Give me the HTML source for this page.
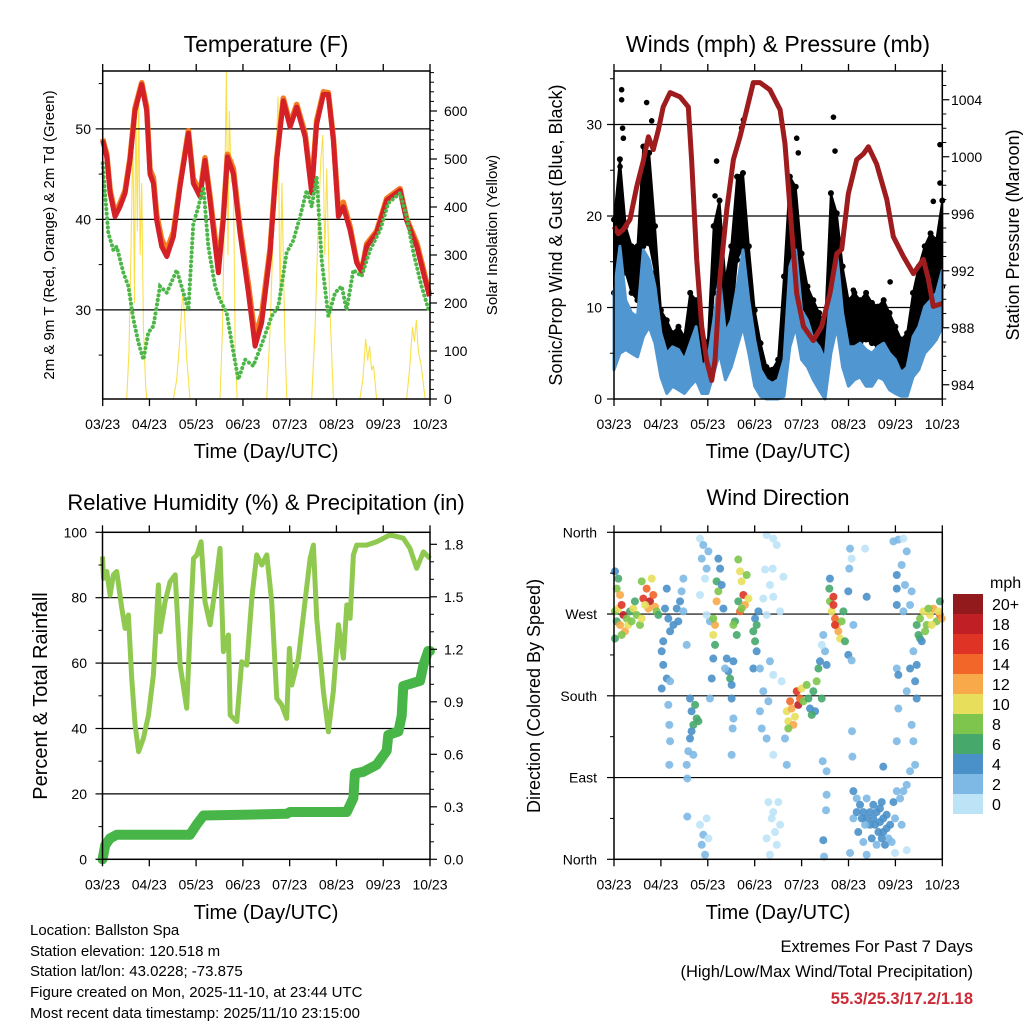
<!DOCTYPE html>
<html><head><meta charset="utf-8">
<style>
html,body{margin:0;padding:0;background:#fff;}
svg{display:block;font-family:"Liberation Sans",Arial,sans-serif;}
</style></head>
<body>
<svg id="chart" width="1024" height="1024" viewBox="0 0 1024 1024" xmlns="http://www.w3.org/2000/svg">
<rect width="1024" height="1024" fill="#fff"/>
<text x="266" y="52" font-size="23" text-anchor="middle">Temperature (F)</text>
<text x="778" y="52" font-size="23" text-anchor="middle">Winds (mph) &amp; Pressure (mb)</text>
<text x="266" y="510" font-size="22" text-anchor="middle">Relative Humidity (%) &amp; Precipitation (in)</text>
<text x="778" y="505" font-size="22" text-anchor="middle">Wind Direction</text>
<text x="266" y="458" font-size="20" text-anchor="middle">Time (Day/UTC)</text>
<text x="778" y="458" font-size="20" text-anchor="middle">Time (Day/UTC)</text>
<text x="266" y="919" font-size="20" text-anchor="middle">Time (Day/UTC)</text>
<text x="778" y="919" font-size="20" text-anchor="middle">Time (Day/UTC)</text>
<text transform="translate(54,235) rotate(-90)" font-size="15" text-anchor="middle">2m &amp; 9m T (Red, Orange) &amp; 2m Td (Green)</text>
<text transform="translate(497,235) rotate(-90)" font-size="15" text-anchor="middle">Solar Insolation (Yellow)</text>
<text transform="translate(562,235) rotate(-90)" font-size="18" text-anchor="middle">Sonic/Prop Wind &amp; Gust (Blue, Black)</text>
<text transform="translate(1019,235) rotate(-90)" font-size="18" text-anchor="middle">Station Pressure (Maroon)</text>
<text transform="translate(47,696) rotate(-90)" font-size="20" text-anchor="middle">Percent &amp; Total Rainfall</text>
<text transform="translate(540,696) rotate(-90)" font-size="18" text-anchor="middle">Direction (Colored By Speed)</text>
<g font-size="15">
<text x="30" y="935">Location: Ballston Spa</text>
<text x="30" y="956">Station elevation: 120.518 m</text>
<text x="30" y="976">Station lat/lon: 43.0228; -73.875</text>
<text x="30" y="997">Figure created on Mon, 2025-11-10, at 23:44 UTC</text>
<text x="30" y="1018">Most recent data timestamp: 2025/11/10 23:15:00</text>
</g>
<g font-size="16.5" text-anchor="end">
<text x="973" y="952">Extremes For Past 7 Days</text>
<text x="973" y="977">(High/Low/Max Wind/Total Precipitation)</text>
<text x="973" y="1004" fill="#cc2a36" font-weight="bold">55.3/25.3/17.2/1.18</text>
</g>
<text x="990" y="588" font-size="16">mph</text>
</svg>
<script>
// ---------- DATA ----------
const xTickHours = [0,24,48,72,96,120,144,168];
const xTickLabels = ['03/23','04/23','05/23','06/23','07/23','08/23','09/23','10/23'];
const tempTicks = [30,40,50];
const solarTicks = [0,100,200,300,400,500,600];
const windTicks = [0,10,20,30];
const presTicks = [984,988,992,996,1000,1004];
const rhTicks = [0,20,40,60,80,100];
const rainTicks = [0.0,0.3,0.6,0.9,1.2,1.5,1.8];
const rainTickLabels = ['0.0','0.3','0.6','0.9','1.2','1.5','1.8'];
const dirTicks = [0,90,180,270,360];
const dirTickLabels = ['North','East','South','West','North'];
const speedBins = ['0','2','4','6','8','10','12','14','16','18','20+'];
const speedColors = ['#bde3f7','#7db9e4','#4a90c9','#46a86b','#7dc54c','#e7df5b','#f8aa4a','#f26629','#df3326','#c01f26','#921a1d'];

const tempT = [0,2.1,3.8,6.3,8.9,11.5,14,16.6,20,22.6,24.3,26,27.7,30.3,32.9,36.3,39.7,44,46.5,50,52.5,55.1,59.4,61.9,64,67.1,70.5,74.8,78.2,81.6,85.9,89.3,92.7,96.2,99.6,103.9,107.3,109.8,113.3,115.8,118.4,121,123.5,127,130.4,132.9,135.5,140.6,145.8,152.6,156,161.2,164.6,167.7];
const temp2m = [48.7,46.9,42.9,40.3,41.4,42.9,46.5,52.0,54.9,52.0,45.0,44.0,39.9,37.0,35.9,38.1,43.6,49.5,44.0,42.5,46.5,42.1,34.1,39.9,46.9,45.0,38.5,31.9,26.0,28.6,36.3,46.5,53.1,50.2,52.4,49.1,42.9,50.5,53.8,53.8,48.7,40.3,41.4,38.8,35.2,34.2,37.0,38.5,42.1,43.2,39.9,37.0,34.1,31.5];
const temp9m = [48.9,47.2,43.3,40.6,41.8,43.2,46.8,52.3,55.1,52.4,45.5,44.6,40.5,37.8,36.6,38.6,43.9,49.8,44.5,43.0,46.8,42.6,34.9,40.3,47.2,45.6,39.1,32.8,27.0,29.5,36.8,46.8,53.4,50.6,52.7,49.5,43.5,50.9,54.1,54.0,49.0,40.9,41.9,39.2,35.4,34.3,37.3,38.7,42.3,43.4,40.1,37.4,34.5,31.7];
const tdT = [0,1.2,2.9,5.5,7.2,10.6,13.2,15.7,18.3,20.9,23.4,26,29.4,32.9,38,41.4,44,46.5,49.1,51.7,54.2,57.7,60.2,63.6,67.1,69.6,73.1,77.3,82.5,86.7,90.2,94.4,97.9,101.3,104.7,107.3,109.8,112.4,115.8,119.3,122.7,125.2,128.7,132.9,137.2,142.4,146.6,152.6,156,159.5,163.7,167.7];
const tdVal = [46.2,42.9,38.5,36.6,37.0,34.1,32.6,29.0,26.4,24.5,27.5,28.2,32.6,31.9,34.4,31.9,30.0,39.5,41.4,43.6,37.0,32.6,31.1,29.7,25.3,22.3,24.5,23.8,26.7,29.3,30.4,36.3,37.7,40.3,43.2,41.4,44.7,35.5,29.3,31.9,32.6,30.0,34.4,33.7,36.6,38.8,41.8,42.9,40.3,36.3,32.6,29.7];
const solarT = [0,12.3,13.5,14.5,15.5,16.3,17,17.8,18.5,19.2,20,20.9,22,22.6,36.3,38,39.5,41,42,43,44.8,60.2,61.5,62.5,63.5,64.3,65,66,67,68,69,84.2,86,87.5,89,90,91,92,93.5,94.5,107.3,109,110.5,112,113,114,115,116.5,118.4,132,133.5,135,136,137,138,139,140.6,156,157.5,159,160,161,162,163.5,165.5,168];
const solarVal = [0,0,100,300,550,200,620,350,640,300,450,150,30,0,0,40,120,220,180,90,0,0,150,400,690,300,600,450,500,100,0,0,150,350,500,630,200,450,120,0,0,150,350,500,550,300,480,200,0,0,40,125,80,110,60,70,0,0,60,150,120,165,100,70,0,0];

const windT = [0,3,6,9,12,15,18,21,24,27,30,33,36,39,42,45,48,51,54,57,60,63,66,69,72,75,78,81,84,87,90,93,96,99,102,105,108,111,114,117,120,123,126,129,132,135,138,141,144,147,150,153,156,159,162,165,168];
const windHi = [11.6,16.7,10.8,9.4,9.0,16.3,15.2,12.3,7.2,5.0,5.7,5.4,4.3,6.1,7.9,3.5,4.3,8.6,13.4,7.2,8.6,12.3,16.3,10.8,6.5,3.2,2.1,1.7,2.1,4.3,14.5,16.3,9.7,8.6,6.5,5.7,4.3,11.6,15.9,9.4,5.7,5.7,6.1,5.4,5.0,5.7,6.1,5.0,4.3,2.8,3.5,6.8,7.9,10.1,10.8,11.6,14.1];
const windLo = [3.2,5.0,5.4,5.0,4.6,6.8,7.9,6.1,2.4,0.6,1.4,1.0,0.6,1.4,2.1,0.6,0.6,2.8,5.0,2.1,3.5,5.7,7.9,5.0,1.4,0.3,0,0,0,0.3,5.7,7.9,4.3,3.5,2.1,1.0,0,5.0,7.9,3.5,1.4,2.1,2.4,1.4,1.4,2.4,2.1,1.0,0.6,0.3,0.3,2.4,3.2,5.0,5.7,6.5,7.9];
const gustHi = [19.6,26.2,18.9,16.7,16.7,27.6,26.9,18.9,9.7,8.6,7.2,7.9,6.8,11.6,10.8,7.2,6.1,18.9,21.7,13.0,16.7,24.3,24.7,16.7,9.7,6.1,3.5,3.2,4.3,13.4,24.3,23.2,15.9,12.3,10.8,9.4,7.9,22.5,20.3,14.5,10.8,11.6,10.8,11.6,10.5,10.1,10.8,9.4,7.9,6.5,7.2,11.6,14.5,16.7,18.1,17.4,21.7];
const gustLo = [11.6,14.5,13.8,11.6,10.8,16.7,17.0,13.8,5.0,4.3,4.3,4.3,3.5,5.4,6.1,3.5,3.2,11.6,13.4,7.2,8.6,15.2,16.7,10.1,5.7,2.4,1.0,0.6,1.4,6.1,15.2,16.7,9.4,7.2,5.7,5.0,3.5,14.5,14.5,7.9,5.7,6.1,6.1,6.5,6.1,5.7,5.7,5.0,4.3,3.5,3.5,5.7,7.9,9.4,10.8,10.8,12.3];
const gustOutT = [3.9,3.9,4.4,4.8,16.7,19.3,3.1,52.5,51.7,66.2,65.3,93.5,94.3,112.3,113.1,166.8,166.8,163.4,141.3,122.5];
const gustOutV = [33.8,32.7,29.6,28.5,32.4,30.4,25.4,26.0,22.2,30.5,29.6,28.5,26.9,30.8,27.1,27.8,23.6,21.6,12.8,11.9];
const presT = [0,2.2,4.8,8.2,11.6,15,17.6,20.1,22.7,25.2,28.7,33.8,38,39.7,42.3,44.9,47.4,50,51.7,54.3,57.7,61.1,64.5,67.9,71.3,74.7,79.8,85,87.5,90.1,93.5,96.9,102,106.3,110.5,114,116.5,119.9,124.2,127.6,130.2,134.4,139.6,142.9,148.1,153.2,158.3,160.9,163.4,168];
const presVal = [995.1,994.6,994.9,995.6,997.9,999.7,1001.4,1000.5,1001.9,1003.5,1004.5,1004.2,1003.5,999.8,992.8,988.1,985.7,984.3,985.7,991.6,996.3,999.8,1001.4,1003.3,1005.2,1005.2,1004.7,1003.3,1000.9,996.3,990.4,988.1,987.1,988.1,990.4,993.2,993.5,997.4,999.8,1000.2,1000.7,999.5,997.0,994.4,993.0,991.8,992.8,991.4,989.5,989.7];

const rhT = [0,0.5,2.2,3.9,5.6,7.3,9.9,11.6,13.3,15,16.7,18.5,21,23.6,26.1,28.7,29.6,32.1,34.7,37.3,39.8,43.2,44.9,46.7,48.4,50.6,52.6,55.2,57.8,60.3,62,64.6,65.5,68.9,71.4,74,76.6,79.1,81.7,84.3,86.8,89.4,91.9,94.5,95.9,97.1,100.5,103.9,106.5,108.2,109.9,113.3,115.9,118.4,121,123.6,125.3,127,128.7,130.4,135.5,140.6,147.5,154.3,157.7,161.2,164.6,168];
const rhVal = [92.6,85.9,88.0,80.8,87.0,88.0,76.8,70.6,74.7,55.4,41.1,32.9,37.0,44.1,56.4,83.9,69.6,78.8,84.9,87.0,59.4,46.2,69.6,92.0,93.1,97.1,78.8,71.7,82.9,95.1,63.5,68.6,44.1,42.1,60.4,59.4,79.8,93.1,90.0,93.1,78.8,49.2,47.2,43.1,64.5,53.3,61.5,78.8,92.0,96.1,73.7,51.3,39.0,51.3,71.7,61.5,77.8,73.7,93.1,96.1,96.1,97.1,99.2,98.2,95.1,89.0,94.0,92.0];
const rainT = [0,1.4,3.9,7.3,44.9,48.4,51.8,94.5,96.2,125.3,128.7,129.5,133.8,140.6,145.8,146.6,151.8,153.5,154.3,162.9,164.6,167.1,168];
const rainVal = [0,0.08,0.12,0.14,0.14,0.20,0.25,0.26,0.27,0.27,0.35,0.49,0.50,0.54,0.62,0.71,0.73,0.82,0.99,1.02,1.11,1.19,1.19];

const dirT = [
0.5,1.4,2.2,3.1,3.9,4.8,5.6,6.5,7.3,8.2,9,9.9,10.7,11.6,13.3,14.2,1.4,2.2,0.5,3.1,0.5,3.9,
15,16.7,18.4,20.1,17.6,15.9,21,19.3,21.8,14.2,22.7,
27,26.1,27.8,28.7,25.2,24.4,25.2,27,24.4,32.1,33.8,35.5,34.6,32.9,30.4,35.5,28.7,27.8,28.3,28.7,28.3,37.2,
38.9,39.7,41.5,42.3,40.6,38.9,38,40.6,39.7,43.2,37.5,37.2,37.5,
44,45.7,44.9,47.4,46.6,48.3,44,49.1,47.4,44,45.7,44.9,47.4,46.6,48.3,
53.4,54.3,52.5,53.4,52.5,51.7,50.8,51.7,55.1,56,50.8,50,50.8,49.1,
57.7,58.5,59.4,60.2,61.1,56.8,60.2,61.1,60.7,60.2,
63.6,64.5,65.3,66.2,67,64.5,67.9,68.8,63.6,65.3,61.9,62.8,61.1,
72.2,73,71.3,72.2,73.9,73,71.3,
78.1,81.5,83.3,77.3,81.2,86.7,79.8,76.4,81.5,78.1,85,74.7,76.4,79,79.8,81.5,85.8,78.1,81.5,74.7,75.6,87.5,88.4,79,80.7,82.4,83.3,79.8,81.5,85,78.1,84.1,
88.4,89.2,90.1,90.9,91.8,93.5,94.3,95.2,89.2,92.6,96,96.9,
98.6,99.5,100.3,102,103.7,104.6,105.4,102.9,101.2,106.3,
107.1,108,108.8,106.8,108.8,108.8,108.5,107.1,107.5,106.3,
110.5,110.2,110.5,111.4,112.3,113.1,114,114.8,115.7,116.5,117.4,118.2,112.3,113.1,
119.9,120.4,120.8,121.6,122.5,119.9,121.6,128.5,129.3,121.8,122,137.8,
122.5,124.2,125.9,127.6,129.3,131,132.7,134.4,136.1,137.8,139.5,141.3,143,122.5,125,127.6,129.3,131.9,134.4,137,138.7,140.4,142.1,143.8,144.7,146.4,147.2,124.2,132.7,136.1,120.8,129.3,143.8,149.8,131,133.6,135.3,137.8,139.5,128.5,126.8,137,
143,145.5,148.1,149.8,147.2,144.7,144.7,148.9,144.7,148.1,152.3,151.5,144.7,145.5,151.5,153.2,154.9,154.1,154.9,149.8,152.3,153.2,154.1,151.5,149.8,145.5,144.7,148.1,
154.9,156.6,158.3,160,161.7,163.4,165.1,166.8,167.7,156.6,159.2,162.6,160.9,166,157.5,155.8,166.8];
const dirD = [
273,262,276,258,280,269,251,265,258,273,262,276,284,269,258,265,298,309,317,291,243,247,
287,298,284,291,276,280,278,309,273,306,269,
298,276,265,251,240,229,214,199,188,276,284,273,295,262,258,309,196,170,148,130,104,236,
177,163,170,155,148,133,119,115,141,152,89,104,47,
353,346,331,320,309,339,291,262,269,38,27,16,45,5,23,
331,320,306,295,284,258,247,236,302,276,265,199,221,177,
221,207,199,192,218,210,177,155,144,115,
330,317,306,291,280,273,313,287,284,276,262,247,258,
265,258,251,240,273,229,210,
357,353,346,319,320,311,302,287,289,269,273,210,185,174,218,203,196,133,115,163,144,133,104,63,45,30,16,5,52,38,23,63,
163,152,174,166,148,185,170,177,144,157,188,174,
192,177,166,185,196,210,218,163,159,177,
247,229,214,108,97,71,54,21,3,236,
309,298,284,273,280,265,258,251,243,262,273,240,289,258,
295,320,342,331,258,225,219,342,289,141,113,102,
75,67,60,52,45,38,60,52,41,30,49,38,63,45,30,19,67,23,16,63,16,23,19,45,75,67,38,52,45,56,7,5,7,10,52,38,30,45,34,38,45,23,
350,352,353,339,324,313,298,302,280,273,295,280,210,203,210,229,214,196,177,185,148,130,104,97,82,166,130,75,
258,265,273,258,269,276,262,269,265,243,251,258,276,273,240,247,284];
const dirS = [
8,6,10,12,16,18,12,8,10,6,8,10,6,8,8,10,8,6,4,12,6,8,
16,14,18,14,12,10,12,10,8,8,6,
4,4,4,4,4,4,4,4,4,4,4,2,2,4,4,2,2,2,2,2,2,2,
4,4,6,6,6,4,2,2,4,6,2,2,2,
0,2,2,2,0,2,0,2,0,0,2,2,0,2,0,
4,4,6,8,12,12,10,6,4,4,8,4,4,2,
4,4,6,4,4,2,4,2,2,2,
8,10,10,16,12,14,8,10,6,8,6,6,8,
4,6,6,6,4,4,4,
0,0,0,0,0,0,0,0,0,0,0,2,2,2,2,0,0,2,0,2,2,2,2,0,0,0,0,0,0,0,0,0,
10,10,14,12,12,16,18,14,8,10,10,8,
8,6,4,6,8,6,4,4,6,6,
2,2,4,2,2,2,2,4,2,0,
4,6,8,10,16,14,12,12,10,8,6,6,16,16,
4,2,2,0,2,4,2,0,4,2,2,4,
4,2,4,4,4,4,4,4,4,4,4,4,4,2,4,2,2,4,2,4,4,2,2,2,2,2,2,4,4,4,2,2,0,0,4,4,4,4,4,2,4,4,
2,2,0,2,2,4,4,2,4,2,2,2,2,4,4,2,4,4,4,2,2,2,2,2,2,2,2,2,
6,8,10,8,10,12,8,14,12,6,8,10,8,10,4,6,6];

// ---------- RENDER ----------
const NS = 'http://www.w3.org/2000/svg';
const svg = document.getElementById('chart');
function mk(tag, attrs, parent) {
  const e = document.createElementNS(NS, tag);
  for (const k in attrs) e.setAttribute(k, attrs[k]);
  (parent || svg).appendChild(e);
  return e;
}
const P1 = {x0:102.7, x1:430, y0:71, y1:399};
const P2 = {x0:614, x1:942.3, y0:71, y1:399};
const P3 = {x0:102.5, x1:430, y0:532.3, y1:859.3};
const P4 = {x0:614, x1:942.3, y0:532.3, y1:859.3};
const xOf = (p, t) => p.x0 + t / 168 * (p.x1 - p.x0);
const yTemp = v => 399 - (v - 20.15) * 9.05;
const ySolar = v => 399 - v * 0.48;
const yWind = v => 399 - v * 9.15;
const yPres = v => 399 - (v - 983) * 14.25;
const yRH = v => 859.3 - v * 3.27;
const yRain = v => 859.3 - v * 175;
const yDir = d => 859.3 - d * 327 / 360;
const clip = (v, a, b) => Math.max(a, Math.min(b, v));

function line(p, x1, y1, x2, y2, w, name) {
  const l = mk('line', {x1:x1, y1:y1, x2:x2, y2:y2, stroke:'#000', 'stroke-width':w});
  
  
  return l;
}
function label(str, x, y, anchor, name, size) {
  const t = mk('text', {x:x, y:y, 'text-anchor':anchor, 'font-size':size || 14});
  t.textContent = str;
  
  
  return t;
}
function frame(p, name) {
  const r = mk('rect', {x:p.x0, y:p.y0, width:p.x1 - p.x0, height:p.y1 - p.y0, fill:'none', stroke:'#000', 'stroke-width':1.5});
  
  
  xTickHours.forEach((h, i) => {
    const x = xOf(p, h);
    line(p, x, p.y0, x, p.y0 - 7, 1.3, 'x-tick-top');
    line(p, x, p.y1, x, p.y1 + 7, 1.3, 'x-tick');
    label(xTickLabels[i], x, p.y1 + 30, 'middle', 'x-tick-label');
  });
}
function grid(p, vals, yf) {
  vals.forEach(v => {
    const y = yf(v);
    line(p, p.x0, y, p.x1, y, 1.2, 'grid-line');
  });
}
function leftTicks(p, vals, labels, yf, minor, lx) {
  vals.forEach((v, i) => {
    const y = yf(v);
    line(p, p.x0, y, p.x0 - 7, y, 1.2, 'y-tick');
    label(labels[i], lx, y + 5, 'end', 'y-tick-label');
  });
  minor.forEach(v => {
    const y = yf(v);
    line(p, p.x0, y, p.x0 - 4, y, 1, 'y-minor-tick');
  });
}
function rightTicks(p, vals, labels, yf, minor, lx) {
  vals.forEach((v, i) => {
    const y = yf(v);
    line(p, p.x1, y, p.x1 + 7, y, 1.2, 'y2-tick');
    label(labels[i], lx, y + 5, 'start', 'y2-tick-label');
  });
  minor.forEach(v => {
    const y = yf(v);
    line(p, p.x1, y, p.x1 + 4, y, 1, 'y2-minor-tick');
  });
}
function pathFrom(p, ts, vs, yf, lo, hi) {
  return ts.map((t, i) => (i ? 'L' : 'M') + xOf(p, t).toFixed(1) + ',' + clip(yf(vs[i]), lo, hi).toFixed(1)).join('');
}
function range(a, b, s) { const r = []; for (let v = a; v <= b + 1e-9; v += s) r.push(+v.toFixed(2)); return r; }

// ===== Panel 1: Temperature =====
const sol = mk('path', {d:pathFrom(P1, solarT, solarVal, ySolar, P1.y0, P1.y1), fill:'none', stroke:'#f9e04a', 'stroke-width':1.1});


grid(P1, tempTicks, yTemp);
const or = mk('path', {d:pathFrom(P1, tempT, temp9m, yTemp, P1.y0, P1.y1), fill:'none', stroke:'#f47c20', 'stroke-width':5.5, 'stroke-linejoin':'round'});


const rd = mk('path', {d:pathFrom(P1, tempT, temp2m, yTemp, P1.y0, P1.y1), fill:'none', stroke:'#d42027', 'stroke-width':5, 'stroke-linejoin':'round'});


const gr = mk('path', {d:pathFrom(P1, tdT, tdVal, yTemp, P1.y0, P1.y1), fill:'none', stroke:'#4cb748', 'stroke-width':4, 'stroke-linecap':'round', 'stroke-dasharray':'0.1 4.5'});


frame(P1, 'temperature-plot-frame');
leftTicks(P1, tempTicks, tempTicks.map(String), yTemp, [25,35,45,55], 91);
rightTicks(P1, solarTicks, solarTicks.map(String), ySolar, range(20, 680, 20).filter(v => v % 100), 444);

// ===== Panel 2: Winds & Pressure =====
grid(P2, [10,20,30], yWind);
const gband = mk('path', {d:pathFrom(P2, windT, gustHi, yWind, P2.y0, P2.y1) + pathFrom(P2, windT.slice().reverse(), gustLo.slice().reverse(), yWind, P2.y0, P2.y1).replace('M','L') + 'Z', fill:'#000', stroke:'#000', 'stroke-width':2, 'stroke-linejoin':'round'});


windT.forEach((t, i) => {
  const c = mk('circle', {cx:xOf(P2, t), cy:yWind(gustHi[i]), r:3, fill:'#000'});
  
  
  const c2 = mk('circle', {cx:xOf(P2, t), cy:yWind(gustLo[i]), r:3, fill:'#000'});
  
  
});
gustOutT.forEach((t, i) => {
  const c = mk('circle', {cx:xOf(P2, t), cy:yWind(gustOutV[i]), r:2.8, fill:'#000'});
  
  
});
const wband = mk('path', {d:pathFrom(P2, windT, windHi, yWind, P2.y0, P2.y1) + pathFrom(P2, windT.slice().reverse(), windLo.slice().reverse(), yWind, P2.y0, P2.y1).replace('M','L') + 'Z', fill:'#5097d2', stroke:'#5097d2', 'stroke-width':3, 'stroke-linejoin':'round'});


const pl = mk('path', {d:pathFrom(P2, presT, presVal, yPres, P2.y0, P2.y1), fill:'none', stroke:'#9e1b1e', 'stroke-width':5, 'stroke-linejoin':'round'});


frame(P2, 'winds-plot-frame');
leftTicks(P2, windTicks, windTicks.map(String), yWind, [5,15,25,35], 602);
rightTicks(P2, presTicks, presTicks.map(String), yPres, range(983, 1006, 1).filter(v => presTicks.indexOf(v) < 0), 951);

// ===== Panel 3: RH & Rain =====
grid(P3, [20,40,60,80], yRH);
const rh = mk('path', {d:pathFrom(P3, rhT, rhVal, yRH, P3.y0, P3.y1), fill:'none', stroke:'#8fc94f', 'stroke-width':5, 'stroke-linejoin':'round'});


const rn = mk('path', {d:pathFrom(P3, rainT, rainVal, yRain, P3.y0, P3.y1 + 10), fill:'none', stroke:'#47b547', 'stroke-width':10, 'stroke-linejoin':'round', 'stroke-linecap':'round'});


frame(P3, 'humidity-plot-frame');
leftTicks(P3, rhTicks, rhTicks.map(String), yRH, [10,30,50,70,90], 87);
rightTicks(P3, rainTicks, rainTickLabels, yRain, range(0.1, 1.8, 0.1).filter(v => Math.round(v * 10) % 3), 444);

// ===== Panel 4: Wind direction =====
grid(P4, [90,180,270], yDir);
dirT.forEach((t, i) => {
  const idx = Math.min(10, Math.floor(dirS[i] / 2));
  const c = mk('circle', {cx:xOf(P4, t), cy:yDir(dirD[i]), r:4, fill:speedColors[idx], 'fill-opacity':0.9});
  
  
});
frame(P4, 'direction-plot-frame');
leftTicks(P4, dirTicks, dirTickLabels, yDir, [45,135,225,315], 597);

// colorbar
speedBins.forEach((b, i) => {
  const k = speedBins.length - 1 - i;
  const y = 594 + i * 20;
  const r = mk('rect', {x:953, y:y, width:30, height:20, fill:speedColors[k]});
  
  
  label(speedBins[k], 992, y + 16, 'start', 'colorbar-label', 16);
});
</script>
</body></html>
